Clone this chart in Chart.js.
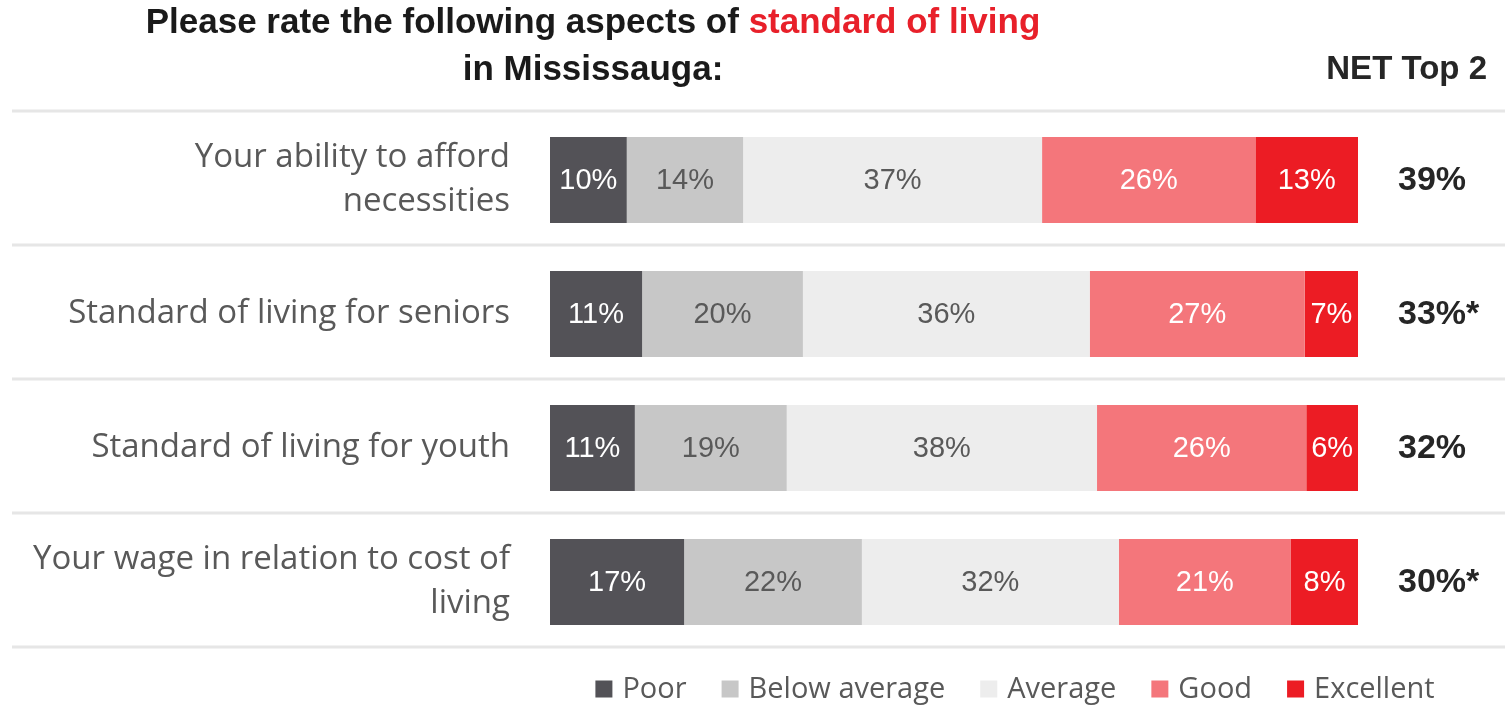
<!DOCTYPE html>
<html>
<head>
<meta charset="utf-8">
<script src="https://cdn.jsdelivr.net/npm/chart.js@4.4.1/dist/chart.umd.min.js"></script>
<style>
  html, body { margin:0; padding:0; background:#fff; }
  #wrap { width:1509px; height:705px; }
</style>
</head>
<body>
<div id="wrap"><canvas id="chart" width="1509" height="705"></canvas></div>
<script>
// rating shares per aspect (each row sums to 100)
const categories = [
  ["Your ability to afford", "necessities"],
  "Standard of living for seniors",
  "Standard of living for youth",
  ["Your wage in relation to cost of", "living"]
];
const seriesNames = ["Poor", "Below average", "Average", "Good", "Excellent"];
const poor         = [9.5, 11.4, 10.5, 16.6];
const belowAverage = [14.4, 19.9, 18.8, 22.0];
const average      = [37.0, 35.5, 38.4, 31.8];
const good         = [26.4, 26.6, 25.9, 21.3];
const excellent    = [12.7, 6.6, 6.4, 8.3];
const netTop2      = ["39%", "33%*", "32%", "30%*"];

const COLORS = ['#535257', '#c7c7c7', '#ededed', '#f4767b', '#ec1c24'];
const LABEL_COLORS = ['#ffffff', '#595959', '#595959', '#ffffff', '#ffffff'];
const LABEL_FONT = '"Open Sans", "Noto Sans", sans-serif';
const NUM_FONT = '"Liberation Sans", Arial, sans-serif';

// separator lines between the rows
const rowLines = {
  id: 'rowLines',
  beforeDatasetsDraw(chart){
    const y = chart.scales.y, ctx = chart.ctx;
    const band = y.getPixelForValue(1) - y.getPixelForValue(0);
    ctx.save();
    ctx.strokeStyle = '#e6e6e6';
    ctx.lineWidth = 3;
    for (let i = 0; i <= categories.length; i++) {
      const yy = y.getPixelForValue(0) - band/2 + i*band - 2;
      ctx.beginPath(); ctx.moveTo(12, yy); ctx.lineTo(1505, yy); ctx.stroke();
    }
    ctx.restore();
  }
};

// % labels inside segments + NET Top 2 column
const barLabels = {
  id: 'barLabels',
  afterDatasetsDraw(chart){
    const ctx = chart.ctx;
    ctx.save();
    ctx.font = '29px ' + NUM_FONT;
    ctx.textAlign = 'center';
    ctx.textBaseline = 'middle';
    chart.data.datasets.forEach((ds, di) => {
      chart.getDatasetMeta(di).data.forEach((bar, i) => {
        ctx.fillStyle = LABEL_COLORS[di];
        ctx.fillText(Math.round(ds.data[i]) + '%', (bar.x + bar.base)/2, bar.y + 1);
      });
    });
    ctx.font = 'bold 34px ' + NUM_FONT;
    ctx.fillStyle = '#262626';
    ctx.textAlign = 'left';
    netTop2.forEach((t, i) => {
      ctx.fillText(t, 1398, chart.scales.y.getPixelForValue(i) + 1);
    });
    ctx.restore();
  }
};

// two-colour title, column header and legend
const decor = {
  id: 'decor',
  afterDraw(chart){
    const ctx = chart.ctx;
    ctx.save();
    ctx.textBaseline = 'middle';
    ctx.font = 'bold 35px ' + NUM_FONT;
    const a = 'Please rate the following aspects of ', b = 'standard of living';
    const wa = ctx.measureText(a).width, wb = ctx.measureText(b).width;
    let x = 593 - (wa + wb)/2;
    ctx.textAlign = 'left';
    ctx.fillStyle = '#1a1a1a'; ctx.fillText(a, x, 23);
    ctx.fillStyle = '#e8202a'; ctx.fillText(b, x + wa, 23);
    ctx.fillStyle = '#1a1a1a'; ctx.textAlign = 'center';
    ctx.fillText('in Mississauga:', 593, 70);

    ctx.font = 'bold 33px ' + NUM_FONT;
    ctx.fillStyle = '#262626'; ctx.textAlign = 'right';
    ctx.fillText('NET Top 2', 1487, 70);

    // legend
    ctx.font = '29px ' + LABEL_FONT;
    ctx.textAlign = 'left';
    const box = 17, gap = 10, sep = 35;
    const widths = seriesNames.map(n => ctx.measureText(n).width);
    const total = widths.reduce((s, w) => s + box + gap + w, 0) + sep*(seriesNames.length - 1);
    x = 1015 - total/2;
    const ly = 689;
    seriesNames.forEach((n, i) => {
      ctx.fillStyle = COLORS[i];
      ctx.fillRect(x, ly - box/2, box, box);
      ctx.fillStyle = '#595959';
      ctx.fillText(n, x + box + gap, ly + 1);
      x += box + gap + widths[i] + sep;
    });
    ctx.restore();
  }
};

const seriesData = [poor, belowAverage, average, good, excellent];

new Chart(document.getElementById('chart'), {
  type: 'bar',
  data: {
    labels: categories,
    datasets: seriesNames.map((n, i) => ({
      label: n,
      data: seriesData[i],
      backgroundColor: COLORS[i],
      borderWidth: 0,
      categoryPercentage: 1,
      barPercentage: 0.642
    }))
  },
  options: {
    indexAxis: 'y',
    responsive: false,
    animation: false,
    devicePixelRatio: 1,
    layout: { padding: { top: 113, bottom: 56, right: 151, left: 0 } },
    plugins: { legend: { display: false }, tooltip: { enabled: false } },
    scales: {
      x: { stacked: true, min: 0, max: 100, display: false },
      y: {
        stacked: true,
        grid: { display: false },
        border: { display: false },
        afterFit(scale){
          scale.width = 550;
          scale.paddingTop = 0;
          scale.paddingBottom = 0;
        },
        ticks: {
          padding: 32,
          color: '#595959',
          font: { family: LABEL_FONT, size: 33, lineHeight: 1.33 }
        }
      }
    }
  },
  plugins: [rowLines, barLabels, decor]
});
</script>
</body>
</html>
